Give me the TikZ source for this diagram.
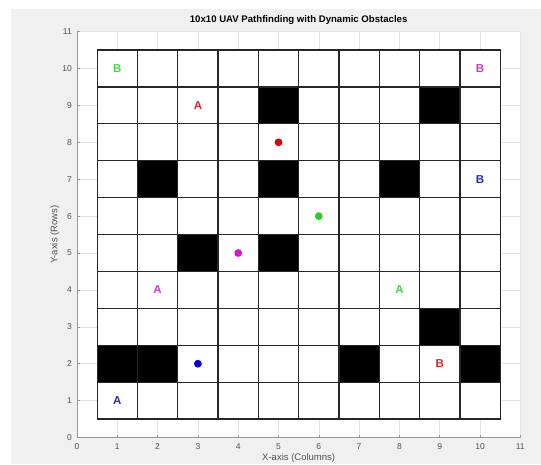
\documentclass[tikz,border=0pt]{standalone}
\usepackage{fontspec}
\setmainfont{Liberation Sans}
\definecolor{figgray}{RGB}{240,240,240}
\definecolor{gridgray}{RGB}{226,226,226}
\definecolor{axisgray}{RGB}{150,150,150}
\definecolor{ticktext}{RGB}{80,80,80}
\definecolor{uavred}{RGB}{225,0,0}
\definecolor{uavgreen}{RGB}{40,205,40}
\definecolor{uavmagenta}{RGB}{215,20,215}
\definecolor{uavblue}{RGB}{0,0,200}
\definecolor{tagred}{RGB}{215,40,50}
\definecolor{taggreen}{RGB}{70,215,70}
\definecolor{tagmagenta}{RGB}{200,60,200}
\definecolor{tagblue}{RGB}{45,45,170}
\usetikzlibrary{positioning}
\tikzset{
  cellbox/.style={draw=black!85, line width=1.3pt, fill=white, minimum width=40.3pt, minimum height=36.9pt, inner sep=0pt, outer sep=0pt},
  obstacle/.style={cellbox, fill=black},
  tag/.style={font=\fontsize{11.5}{11.5}\selectfont\bfseries, inner sep=0pt},
  uavdot/.style={circle, minimum size=7.8pt, inner sep=0pt},
  ticklabel/.style={font=\fontsize{8.5}{9}\selectfont, text=ticktext, inner sep=0pt},
  axislabel/.style={font=\fontsize{9.5}{10}\selectfont, text=ticktext, inner sep=0pt},
}

\begin{document}
\begin{tikzpicture}[x=40.3pt, y=36.9pt]
  \useasboundingbox (-1.9107,-0.7182) rectangle (11.5136,11.8564);
  % Figure and axes background
  \fill[figgray] (-1.6377,-0.7182) rectangle (11.5136,11.612);
  \fill[white] (0,0) rectangle (11,11);
  \foreach \k in {1,...,11} {
    \draw[gridgray, line width=0.5pt] (\k,0) -- (\k,11);
    \draw[gridgray, line width=0.5pt] (0,\k) -- (11,\k);
  }

  % Axes and ticks
  \draw[axisgray, line width=0.6pt] (0,11) -- (0,0) -- (11,0);
  \foreach \k in {0,...,11} {
    \draw[axisgray, line width=0.6pt] (\k,0) -- ++(0,0.0813);
    \draw[axisgray, line width=0.6pt] (0,\k) -- ++(0.0744,0);
    \node[ticklabel] (xt\k) at (\k,-0.257) {\k};
    \node[ticklabel, anchor=east] (yt\k) at (-0.124,\k) {\k};
  }

  % Grid cells
  \foreach \c in {1,...,10}
    \foreach \r in {1,...,10}
      \node[cellbox] (cell-\c-\r) at (\c,\r) {};

  % Obstacles
  \foreach \c/\r in {5/9, 9/9, 2/7, 5/7, 8/7, 3/5, 5/5, 9/3, 1/2, 2/2, 7/2, 10/2}
    \node[obstacle] (obs-\c-\r) at (\c,\r) {};

  % Start and goal tags
  \node[tag, text=taggreen] (bgreen) at (1,10) {B};
  \node[tag, text=tagred] (ared) at (3,9) {A};
  \node[tag, text=tagmagenta] (bmagenta) at (10,10) {B};
  \node[tag, text=tagblue] (bblue) at (10,7) {B};
  \node[tag, text=tagmagenta] (amagenta) at (2,4) {A};
  \node[tag, text=taggreen] (agreen) at (8,4) {A};
  \node[tag, text=tagred] (bred) at (9,2) {B};
  \node[tag, text=tagblue] (ablue) at (1,1) {A};

  % UAV positions
  \node[uavdot, fill=uavred] (dotred) at (5,8) {};
  \node[uavdot, fill=uavgreen] (dotgreen) at (6,6) {};
  \node[uavdot, fill=uavmagenta] (dotmagenta) at (4,5) {};
  \node[uavdot, fill=uavblue] (dotblue) at (3,2) {};

  % Title and labels
  \coordinate (axtop) at (5.5,11);
  \node[font=\fontsize{9.6}{10}\selectfont\bfseries, inner sep=0pt, above=6.5pt of axtop] (title) {10x10 UAV Pathfinding with Dynamic Obstacles};
  \node[axislabel] (xlabel) at (5.5,-0.556) {X-axis (Columns)};
  \node[axislabel, rotate=90] (ylabel) at (-0.546,5.5) {Y-axis (Rows)};
\end{tikzpicture}
\end{document}
